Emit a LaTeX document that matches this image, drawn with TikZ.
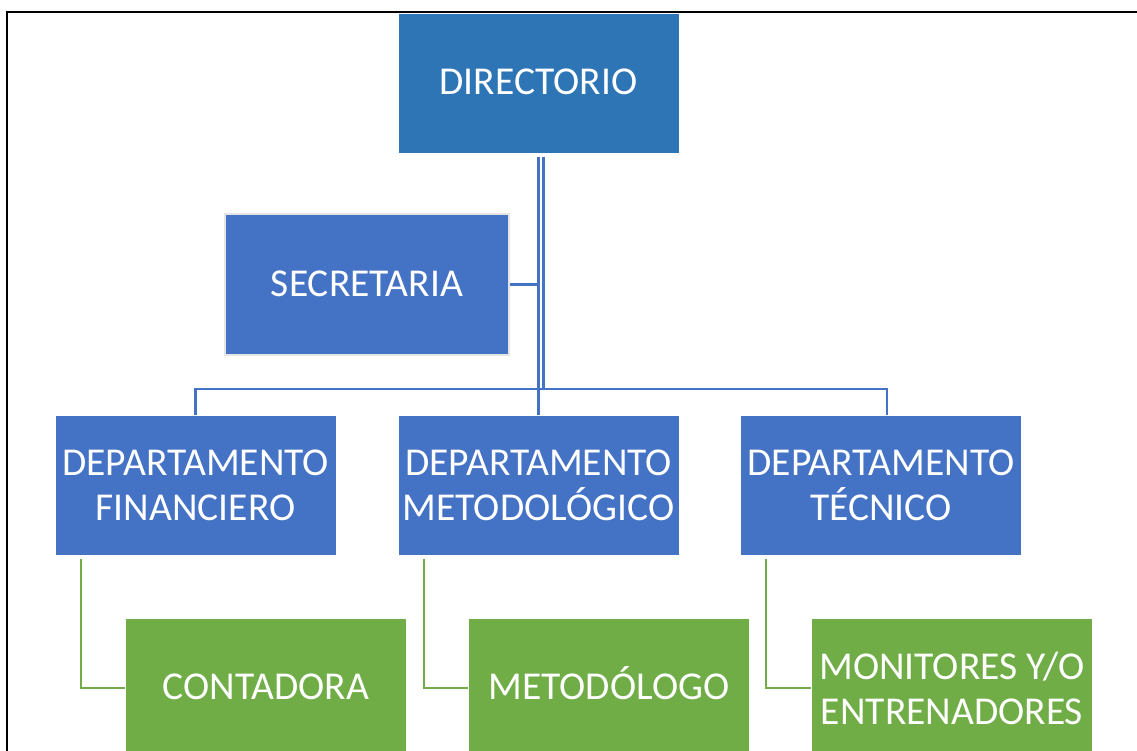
\documentclass[tikz,border=0pt]{standalone}
\usepackage{fontspec}
\setmainfont{Carlito}
\definecolor{dirblue}{HTML}{2E75B6}
\definecolor{boxblue}{HTML}{4472C4}
\definecolor{boxgreen}{HTML}{70AD47}
\tikzset{
  box/.style={rectangle, minimum width=281pt, minimum height=140pt, inner sep=0pt,
    text=white, align=center, font=\fontsize{39.5}{45}\selectfont, draw=white, line width=0.8pt},
  oneline/.style={text height=26pt, text depth=3pt},
  bluebox/.style={box, fill=boxblue},
  greenbox/.style={box, fill=boxgreen},
  bluelink/.style={draw=boxblue, line width=2.2pt},
  greenlink/.style={draw=boxgreen, line width=2.2pt},
}
\begin{document}
\begin{tikzpicture}[x=1pt, y=-1pt]
\path[use as bounding box, clip] (0,0) rectangle (1137,751);
\fill[white] (0,0) rectangle (1137,751);
% frame
\draw[black, line width=2pt] (1140,12.5) -- (7,12.5) -- (7,760);

\node[box, oneline, fill=dirblue] (dir) at (538.5,83.5) {DIRECTORIO};
\node[bluebox, oneline, minimum width=284pt, minimum height=141pt, draw=black!10, line width=2pt] (sec) at (367,284.5) {SECRETARIA};
\node[bluebox] (fin) at (195.5,485.5) {DEPARTAMENTO\\FINANCIERO};
\node[bluebox] (met) at (538.5,485.5) {DEPARTAMENTO\\METODOLÓGICO};
\node[bluebox] (tec) at (881,485.5) {DEPARTAMENTO\\TÉCNICO};
\node[greenbox, oneline] (con) at (266,688) {CONTADORA};
\node[greenbox, oneline] (mgo) at (609,688) {METODÓLOGO};
\node[greenbox] (mon) at (952,688) {MONITORES Y/O\\ENTRENADORES};

% trunk (double line)
\coordinate (barL) at (538.5,389);
\coordinate (barR) at (543.5,389);
\coordinate (tecdrop) at ([xshift=6pt]tec.north);
\draw[bluelink] ([yshift=-3pt]dir.south) -- (barL);
\draw[bluelink] ([xshift=5pt,yshift=-3pt]dir.south) -- (barR);
% secretaria
\draw[bluelink] (sec.east) -- (sec.east -| barL);
% horizontal bar and drops
\draw[bluelink] (fin.north) |- (barL) -| (tecdrop);
\draw[bluelink] (barL) -- (met.north);
% green links
\draw[greenlink] ([xshift=26pt,yshift=-3pt]fin.south west) |- (con.west);
\draw[greenlink] ([xshift=26pt,yshift=-3pt]met.south west) |- (mgo.west);
\draw[greenlink] ([xshift=26pt,yshift=-3pt]tec.south west) |- (mon.west);
\end{tikzpicture}
\end{document}
